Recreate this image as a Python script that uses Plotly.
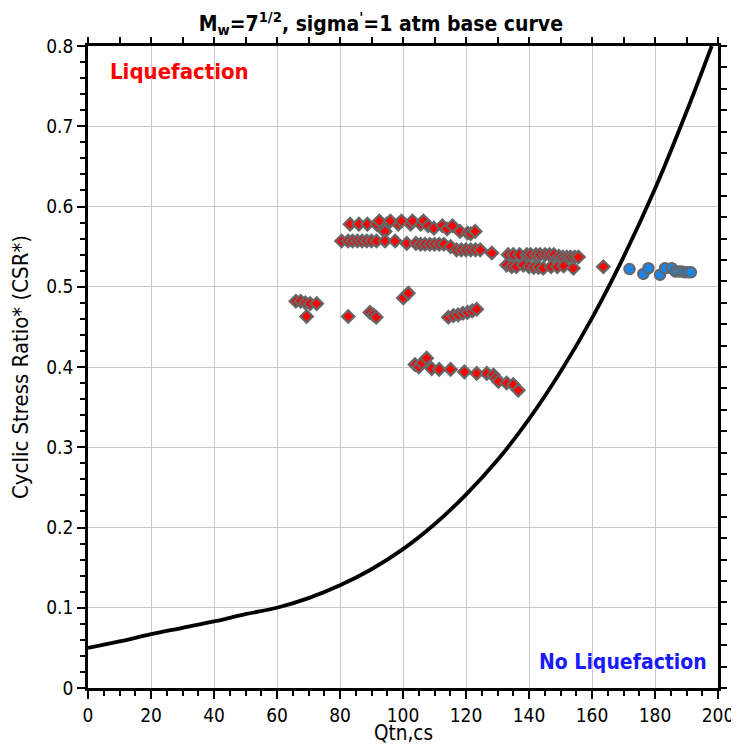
import plotly.graph_objects as go

# Base curve
curve_q = [0, 10, 20, 30, 40, 50, 60, 70, 80, 90, 100, 110, 120, 130, 140, 150, 160, 170, 180, 190, 198]
curve_csr = [0.050, 0.058, 0.067, 0.075, 0.083, 0.092, 0.100, 0.112, 0.128, 0.148, 0.173, 0.204,
             0.241, 0.284, 0.335, 0.394, 0.461, 0.537, 0.622, 0.718, 0.800]

# Liquefaction points (red diamonds)
liq_q = [
    # upper band, top row
    83.2, 86.0, 88.7, 91.6, 94.8, 98.5, 102.4, 105.6, 92.5, 96.0, 99.5, 103.0, 106.5,
    108.0, 109.8, 112.5, 114.0, 115.7, 118.1, 120.5, 121.5, 122.9, 93.7, 94.3,
    # upper band, second row
    80.5, 82.6, 84.0, 85.5, 87.0, 88.5, 90.0, 91.6, 94.3, 97.5, 101.2, 104.1,
    105.6, 107.0, 108.5, 110.0, 111.5, 113.0, 115.1, 117.0, 118.5, 120.0, 121.5, 123.0, 124.5, 128.2,
    # right part
    133.4, 135.0, 137.0, 139.3, 140.5, 142.2, 143.5, 145.1, 146.5, 147.9, 149.5, 150.7, 152.0, 153.2, 154.5, 155.7,
    132.9, 134.5, 136.0, 138.2, 140.0, 141.5, 143.0, 144.5, 147.0, 149.0, 151.0, 154.1, 163.6,
    # middle cluster
    66.0, 67.5, 69.0, 70.5, 72.6, 69.4, 82.6, 89.5, 90.6, 91.5, 100.1, 101.7,
    114.4, 116.0, 117.5, 119.0, 120.5, 122.0, 123.4,
    # lower cluster
    103.8, 105.0, 106.0, 107.5, 109.1, 111.5, 115.1, 119.5, 123.4, 126.6, 128.7, 129.5, 130.3, 132.9, 135.0, 136.6,
]
liq_csr = [
    0.578, 0.578, 0.578, 0.578, 0.578, 0.578, 0.578, 0.578, 0.582, 0.582, 0.582, 0.582, 0.582,
    0.576, 0.573, 0.576, 0.572, 0.576, 0.569, 0.567, 0.566, 0.569, 0.571, 0.569,
    0.557, 0.557, 0.557, 0.557, 0.557, 0.557, 0.557, 0.557, 0.557, 0.557, 0.554, 0.554,
    0.553, 0.553, 0.553, 0.553, 0.553, 0.553, 0.550, 0.546, 0.546, 0.546, 0.546, 0.546, 0.546, 0.542,
    0.540, 0.540, 0.540, 0.540, 0.540, 0.540, 0.540, 0.540, 0.540, 0.540, 0.538, 0.537, 0.537, 0.537, 0.537, 0.537,
    0.527, 0.525, 0.525, 0.527, 0.525, 0.524, 0.524, 0.523, 0.525, 0.525, 0.526, 0.523, 0.525,
    0.482, 0.482, 0.480, 0.479, 0.479, 0.463, 0.463, 0.468, 0.465, 0.462, 0.486, 0.492,
    0.462, 0.464, 0.465, 0.467, 0.468, 0.470, 0.472,
    0.403, 0.400, 0.405, 0.411, 0.398, 0.397, 0.397, 0.394, 0.392, 0.392, 0.390, 0.386, 0.382, 0.380, 0.378, 0.371,
]

# No-liquefaction points (blue circles)
noliq_q = [171.9, 176.3, 177.9, 181.6, 183.2, 185.3, 186.5, 187.5, 188.5, 189.5, 190.5, 191.4]
noliq_csr = [0.522, 0.516, 0.523, 0.515, 0.523, 0.523, 0.519, 0.519, 0.519, 0.518, 0.518, 0.518]

FONT = "DejaVu Sans Condensed, DejaVu Sans, sans-serif"

fig = go.Figure()
fig.add_trace(go.Scatter(x=curve_q, y=curve_csr, mode="lines",
                         line=dict(color="black", width=3.8, shape="spline"),
                         hoverinfo="skip", showlegend=False))
fig.add_trace(go.Scatter(x=liq_q, y=liq_csr, mode="markers",
                         marker=dict(symbol="diamond", size=9.5, color="#ff0000",
                                     line=dict(color="#666666", width=2.3)),
                         showlegend=False))
fig.add_trace(go.Scatter(x=noliq_q, y=noliq_csr, mode="markers",
                         marker=dict(symbol="circle", size=10.5, color="#1e84e6",
                                     line=dict(color="#666666", width=2)),
                         showlegend=False))
# invisible trace to anchor mirrored top/right tick axes
fig.add_trace(go.Scatter(x=curve_q, y=curve_csr, xaxis="x2", yaxis="y2", mode="lines",
                         line=dict(width=0), opacity=0, hoverinfo="skip", showlegend=False))

fig.update_layout(
    width=731, height=736,
    margin=dict(l=80, r=21, t=38, b=56),
    plot_bgcolor="white", paper_bgcolor="white",
    font=dict(family=FONT, size=19, color="black"),
    title=dict(text="<b>M<sub>w</sub>=7<sup>1/2</sup>, sigma<sup>'</sup>=1 atm base curve</b>",
               x=0.51, xanchor="center", y=0.979, yanchor="middle", automargin=False,
               font=dict(family=FONT, size=21, color="black")),
    xaxis=dict(range=[0, 200], dtick=20, tick0=0, showgrid=True, gridcolor="#c8c8c8", gridwidth=1,
               showline=True, linecolor="black", linewidth=2.5, ticks="outside", ticklen=8,
               tickwidth=1.5, tickcolor="black", zeroline=False, automargin=False,
               minor=dict(dtick=5, ticks="outside", ticklen=5, tickwidth=1.5, tickcolor="black", showgrid=False),
               tickfont=dict(size=19)),
    yaxis=dict(range=[0, 0.8], dtick=0.1, tick0=0, showgrid=True, gridcolor="#c8c8c8", gridwidth=1,
               showline=True, linecolor="black", linewidth=2.5, ticks="outside", ticklen=8,
               tickwidth=1.5, tickcolor="black", zeroline=False, automargin=False,
               minor=dict(dtick=0.02, ticks="outside", ticklen=5, tickwidth=1.5, tickcolor="black", showgrid=False),
               title=dict(text="Cyclic Stress Ratio* (CSR*)", font=dict(size=22), standoff=18),
               tickfont=dict(size=19)),
    xaxis2=dict(range=[0, 200], overlaying="x", side="top", dtick=10, tick0=0, showgrid=False,
                showline=True, linecolor="black", linewidth=2.5, ticks="outside", ticklen=6,
                tickwidth=1.5, tickcolor="black", showticklabels=False, zeroline=False, automargin=False),
    yaxis2=dict(range=[0, 0.8], overlaying="y", side="right", dtick=0.8 / 30, tick0=0, showgrid=False,
                showline=True, linecolor="black", linewidth=2.5, ticks="outside", ticklen=6,
                tickwidth=1.5, tickcolor="black", showticklabels=False, zeroline=False, automargin=False),
    annotations=[
        dict(x=0.5, y=-0.0695, xref="paper", yref="paper", text="Qtn,cs", showarrow=False,
             xanchor="center", yanchor="middle", font=dict(family=FONT, size=20.5, color="black")),
        dict(x=6.5, y=0.768, xref="x", yref="y", text="<b>Liquefaction</b>", showarrow=False,
             xanchor="left", yanchor="middle", font=dict(family=FONT, size=22, color="#ff0000")),
        dict(x=197, y=0.033, xref="x", yref="y", text="<b>No Liquefaction</b>", showarrow=False,
             xanchor="right", yanchor="middle", font=dict(family=FONT, size=21, color="#1a1aff")),
    ],
)

fig.write_html("out.html")
